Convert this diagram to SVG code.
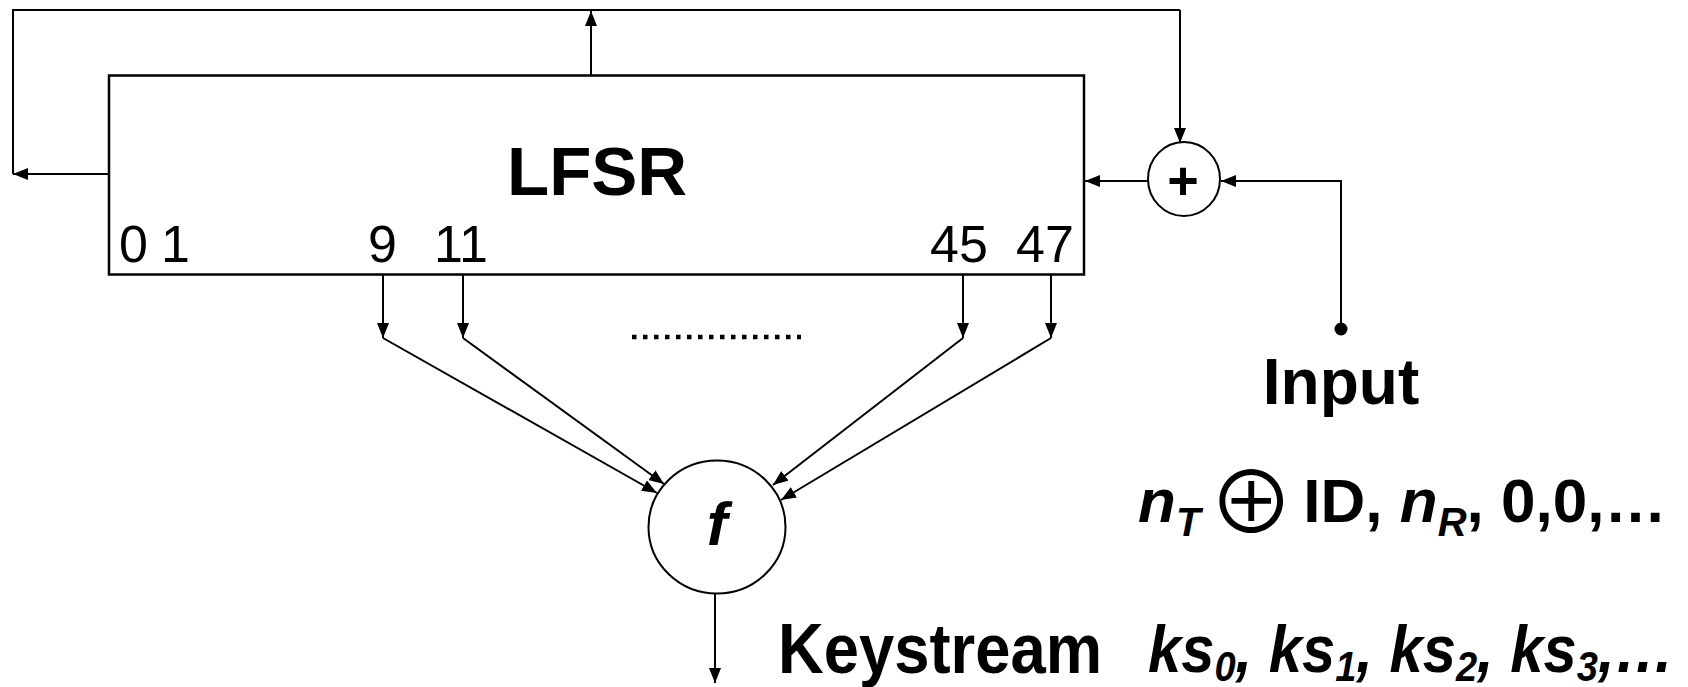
<svg xmlns="http://www.w3.org/2000/svg" width="1688" height="687" viewBox="0 0 1688 687">
  <style>
    .ln { fill: none; stroke: #000; stroke-width: 2; }
    .arr { marker-end: url(#ah); }
    .box { fill: #fff; stroke: #000; stroke-width: 2.5; }
    .txt { font-family: "Liberation Sans", Arial, sans-serif; fill: #000; }
    .b { font-weight: bold; }
    .bi { font-weight: bold; font-style: italic; }
  </style>
  <defs>
    <marker id="ah" markerUnits="userSpaceOnUse" markerWidth="16" markerHeight="12" refX="15" refY="6" orient="auto">
      <path d="M0,0 L15,6 L0,12 z" fill="#000"/>
    </marker>
  </defs>
  <rect width="1688" height="687" fill="#fff"/>

  <!-- connectors -->
  <g id="connectors">
    <!-- feedback out of the register, left and up -->
    <path class="ln arr" d="M109,174 L13,174"/>
    <path class="ln" d="M13,174 L13,10 L1180,10 "/>
    <path class="ln arr" d="M1180,10 L1180,143"/>
    <path class="ln arr" d="M591,76 L591,11"/>
    <!-- xor into the register -->
    <path class="ln arr" d="M1148,181 L1085,181"/>
    <path class="ln arr" d="M1341,329 L1341,181 L1221,181"/>
    <circle cx="1341" cy="329" r="6.5" fill="#000"/>
    <!-- taps -->
    <path class="ln arr" d="M383,275 L383,338"/>
    <path class="ln arr" d="M463,275 L463,338"/>
    <path class="ln arr" d="M963,275 L963,338"/>
    <path class="ln arr" d="M1051,275 L1051,338"/>
    <path class="ln arr" d="M383,338 L657,493"/>
    <path class="ln arr" d="M463,338 L664,484"/>
    <path class="ln arr" d="M963,338 L773,485"/>
    <path class="ln arr" d="M1051,338 L781,500"/>
    <line x1="632" y1="337" x2="801" y2="337" stroke="#000" stroke-width="4.5" stroke-dasharray="4.5 6.5"/>
    <!-- keystream output -->
    <path class="ln arr" d="M715,594 L715,683"/>
  </g>

  <g id="lfsr">
    <rect class="box" x="109" y="75.5" width="975" height="199"/>
    <text class="txt b" x="507" y="195" font-size="69">LFSR</text>
    <text class="txt" x="119" y="262" font-size="52">0</text>
    <text class="txt" x="161" y="262" font-size="52">1</text>
    <text class="txt" x="368" y="262" font-size="52">9</text>
    <text class="txt" x="434" y="262" font-size="52">11</text>
    <text class="txt" x="930" y="262" font-size="52">45</text>
    <text class="txt" x="1016" y="262" font-size="52">47</text>
  </g>

  <g id="xor">
    <ellipse cx="1184" cy="179" rx="36" ry="37" fill="#fff" stroke="#000" stroke-width="2"/>
    <text class="txt b" x="1183" y="199" font-size="54" text-anchor="middle">+</text>
  </g>

  <g id="filter">
    <ellipse cx="717" cy="527" rx="68.5" ry="66.5" fill="#fff" stroke="#000" stroke-width="2"/>
    <text class="txt bi" x="717" y="545" font-size="62" text-anchor="middle">f</text>
  </g>

  <g id="input">
    <text class="txt b" x="1341" y="404" font-size="64" text-anchor="middle">Input</text>
    <text class="txt b" x="1138" y="522" font-size="62"><tspan font-style="italic">n</tspan><tspan font-style="italic" font-size="40" dy="14">T</tspan><tspan dx="8" dy="-2" font-family="'Noto Sans CJK JP', 'DejaVu Sans', sans-serif" font-weight="normal" font-size="86">⊕</tspan><tspan dx="9" dy="-12">ID, </tspan><tspan font-style="italic">n</tspan><tspan font-style="italic" font-size="40" dy="14">R</tspan><tspan dy="-14">, 0,0,…</tspan></text>
  </g>

  <g id="keystream">
    <text class="txt b" font-size="70" transform="translate(778,673) scale(0.905,1)">Keystream</text>
    <text class="txt bi" font-size="66" transform="translate(1148,672) scale(0.905,1)">ks<tspan font-size="42" dy="9">0</tspan><tspan dy="-9">, ks</tspan><tspan font-size="42" dy="9">1</tspan><tspan dy="-9">, ks</tspan><tspan font-size="42" dy="9">2</tspan><tspan dy="-9">, ks</tspan><tspan font-size="42" dy="9">3</tspan><tspan dy="-9">,…</tspan></text>
  </g>
</svg>
